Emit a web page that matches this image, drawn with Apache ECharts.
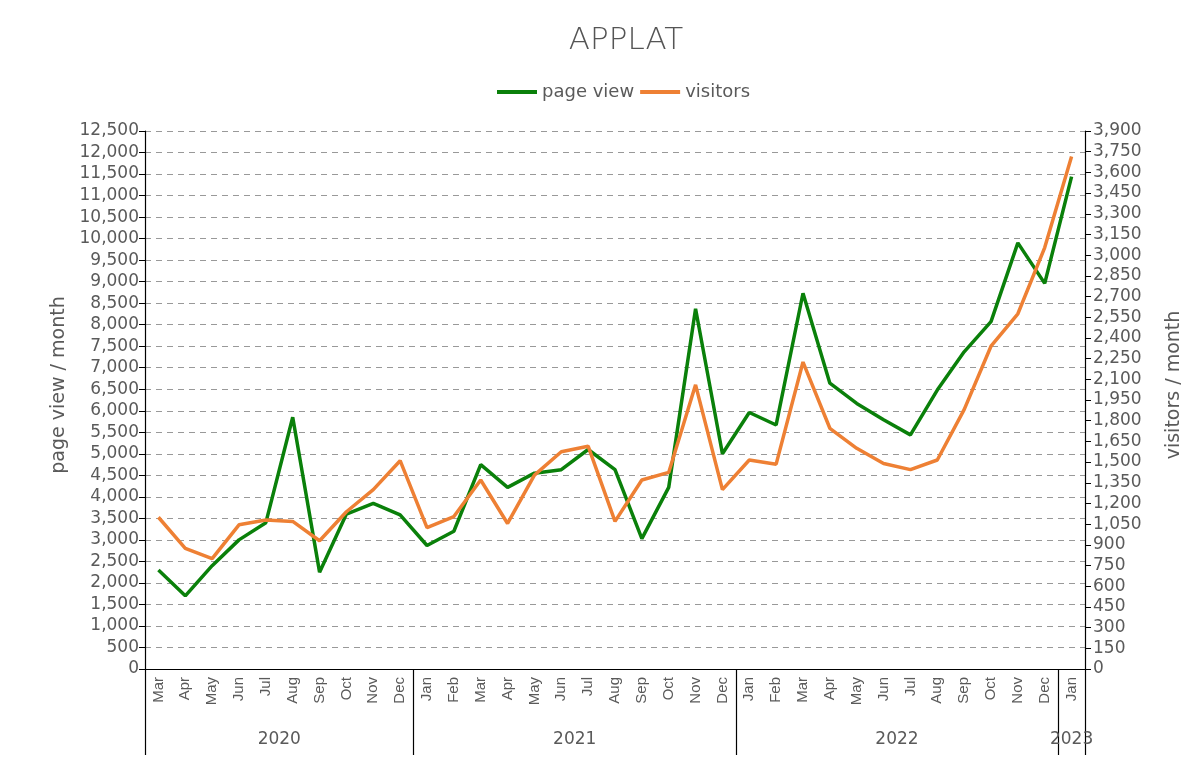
<!DOCTYPE html>
<html>
<head>
<meta charset="utf-8">
<script src="https://cdn.jsdelivr.net/npm/echarts@6/dist/echarts.min.js"></script>
<style>
html,body{margin:0;padding:0;background:#fff;}
#chart{width:1198px;height:762px;}
</style>
</head>
<body>
<div id="chart"></div>
<script>
var months = ['Mar','Apr','May','Jun','Jul','Aug','Sep','Oct','Nov','Dec',
  'Jan','Feb','Mar','Apr','May','Jun','Jul','Aug','Sep','Oct','Nov','Dec',
  'Jan','Feb','Mar','Apr','May','Jun','Jul','Aug','Sep','Oct','Nov','Dec',
  'Jan'];
var years = ['2020','2021','2022','2023'];
var yearCounts = [10, 12, 12, 1];
var pageView = [2300,1700,2400,3000,3400,5850,2250,3600,3850,3580,
  2870,3200,4750,4220,4550,4630,5100,4630,3030,4220,8370,5000,
  5960,5670,8730,6640,6170,5790,5440,6480,7370,8070,9900,8960,
  11440];
var visitors = [1100,875,800,1045,1080,1070,930,1140,1300,1510,
  1025,1105,1370,1055,1405,1575,1615,1070,1370,1425,2060,1300,
  1515,1485,2225,1745,1600,1490,1445,1515,1880,2340,2575,3055,
  3715];

// year group boundaries and centers (in category units)
var bounds = [0], centers = [], acc = 0;
yearCounts.forEach(function(c){ centers.push(acc + c/2); acc += c; bounds.push(acc); });

var font = 'DejaVu Sans';
var txt = '#5a5a5a';
var chart = echarts.init(document.getElementById('chart'));
chart.setOption({
  backgroundColor: '#fff',
  animation: false,
  textStyle: {fontFamily: font},
  title: {
    text: 'APPLAT', left: 621, textAlign: 'center', top: 20,
    textStyle: {fontFamily: font, fontSize: 31, fontWeight: 200, color: '#555'}
  },
  legend: {
    top: 78, left: 492, itemWidth: 40, itemHeight: 4, itemGap: 6, icon: 'rect',
    textStyle: {fontFamily: font, fontSize: 18, color: txt},
    data: ['page view','visitors']
  },
  grid: {left: 145, right: 113, top: 131, bottom: 93, containLabel: false},
  xAxis: [{
    type: 'category', data: months, position: 'bottom',
    axisLine: {show: true, lineStyle: {color: '#000', width: 1.2}},
    axisTick: {show: false},
    axisLabel: {interval: 0, rotate: 90, fontSize: 15, color: txt, margin: 8, fontFamily: 'Liberation Sans'}
  }, {
    type: 'value', min: 0, max: acc, position: 'bottom',
    axisLine: {show: false},
    splitLine: {show: false},
    axisTick: {show: true, customValues: bounds, length: 86, lineStyle: {color: '#000', width: 1.2}},
    axisLabel: {
      customValues: centers, margin: 62, fontSize: 17, color: txt, fontFamily: font,
      formatter: function(v){ var i = centers.indexOf(v); return i >= 0 ? years[i] : ''; }
    }
  }],
  yAxis: [{
    type: 'value', min: 0, max: 12500, interval: 500, position: 'left',
    name: 'page view / month', nameLocation: 'middle', nameRotate: 90, nameGap: 72,
    nameTextStyle: {fontSize: 19, color: txt, fontFamily: font, padding: [0, 0, 0, 30]},
    axisLine: {show: true, lineStyle: {color: '#000', width: 1.2}},
    axisTick: {show: true, length: 6, lineStyle: {color: '#000'}},
    axisLabel: {fontSize: 17, color: txt, margin: 6, fontFamily: font},
    splitLine: {show: true, lineStyle: {color: '#999', type: [6, 5], width: 1.2}}
  }, {
    type: 'value', min: 0, max: 3900, interval: 150, position: 'right',
    name: 'visitors / month', nameLocation: 'middle', nameRotate: 90, nameGap: 80,
    nameTextStyle: {fontSize: 19, color: txt, fontFamily: font, padding: [0, 0, 0, 30]},
    axisLine: {show: true, lineStyle: {color: '#000', width: 1.2}},
    axisTick: {show: true, length: 6, lineStyle: {color: '#000'}},
    axisLabel: {fontSize: 17, color: txt, margin: 8, fontFamily: font},
    splitLine: {show: false}
  }],
  series: [{
    name: 'page view', type: 'line', data: pageView, yAxisIndex: 0, xAxisIndex: 0,
    symbol: 'none', smooth: false,
    lineStyle: {color: '#0a800a', width: 3.5}, itemStyle: {color: '#0a800a'}
  }, {
    name: 'visitors', type: 'line', data: visitors, yAxisIndex: 1, xAxisIndex: 0,
    symbol: 'none', smooth: false,
    lineStyle: {color: '#ee8034', width: 3.5}, itemStyle: {color: '#ee8034'}
  }]
});
</script>
</body>
</html>
